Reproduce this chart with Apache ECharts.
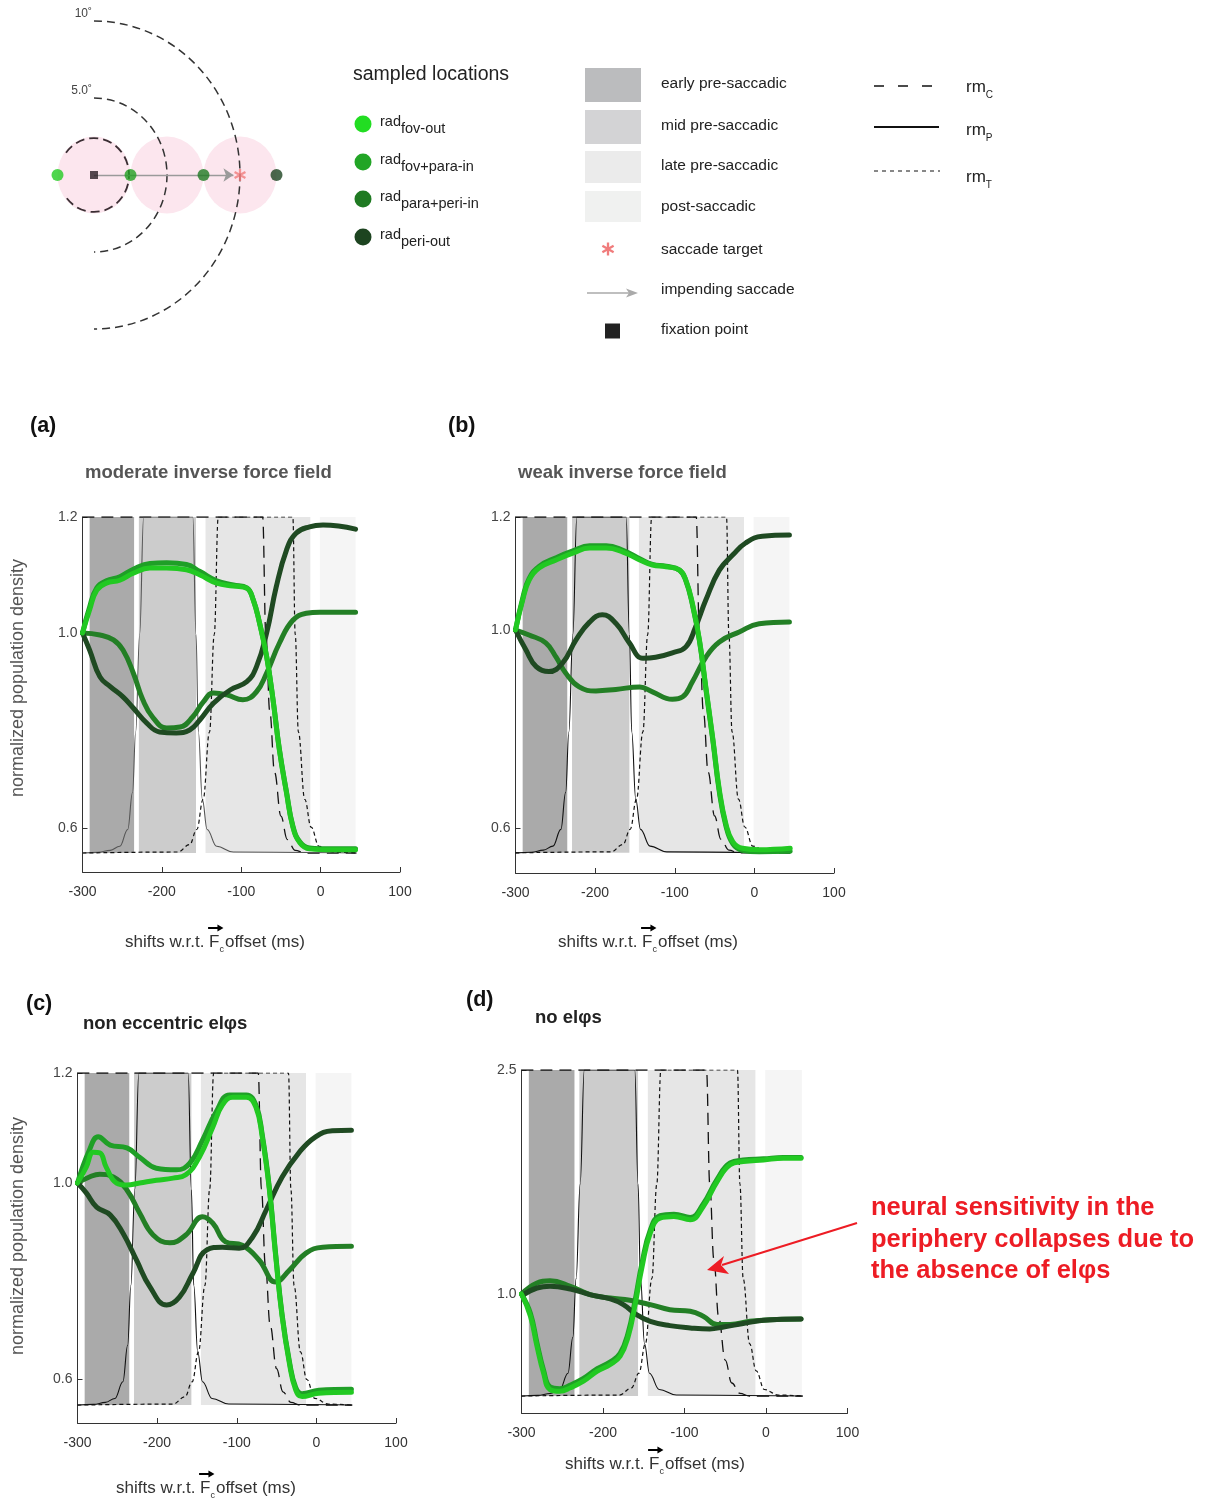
<!DOCTYPE html>
<html><head><meta charset="utf-8">
<script src="https://cdn.jsdelivr.net/npm/echarts@6/dist/echarts.min.js"></script>
<style>html,body{margin:0;padding:0;background:#fff}#c{width:1208px;height:1500px}</style>
</head><body><div id="c"></div><script>
// ================= DATA =================
const xTicks = [-300, -200, -100, 0, 100];
const phaseNames = ['early pre-saccadic', 'mid pre-saccadic', 'late pre-saccadic', 'post-saccadic'];
const phaseBounds = [[-291, -235], [-229, -157], [-145, -13], [-1, 44]];
const locationNames = ['fov-out', 'fov+para-in', 'para+peri-in', 'peri-out'];
const locationPos = [-2.5, 2.5, 7.5, 12.5];       // deg along the saccade axis
const fixationPos = [0, 0];
const targetPos = [10, 0];
const rfCenters = [0, 5, 10];
const rfRadius = 2.5;
const rings = [[5, 90, -90], [10, 90, -90], [2.4, 143, -143]]; // radius, from deg, to deg
const ringLabels = ['5.0˚', '10˚', ''];
const rmNames = ['C', 'P', 'T'];

// receptive-field (rm) profiles, fraction of plot height
const rmC = [[-300,1],[-73,1],[-69,0.65],[-64,0.42],[-58,0.24],[-50,0.11],[-42,0.04],[-32,0.008],[-20,0],[45,0]];
const rmP = [[-300,0],[-280,0.002],[-265,0.008],[-253,0.02],[-243,0.07],[-237,0.18],[-233,0.36],[-228,0.65],[-223,1],[-161,1],[-157,0.65],[-154,0.36],[-149,0.16],[-143,0.07],[-131,0.02],[-110,0.003],[45,0]];
const rmT = [[-300,0],[-180,0.003],[-165,0.025],[-156,0.07],[-148,0.16],[-140,0.36],[-134,0.65],[-129,1],[-35,1],[-32,0.65],[-28,0.36],[-20,0.16],[-12,0.077],[-2,0.02],[15,0.003],[45,0]];

// (a) moderate inverse force field
const A_fovOut = [[-300,1.0],[-291,1.04],[-282,1.074],[-270,1.086],[-253,1.091],[-236,1.103],[-215,1.112],[-194,1.112],[-169,1.109],[-152,1.1],[-131,1.086],[-110,1.081],[-93,1.077],[-85,1.057],[-77,1.017],[-68,0.951],[-60,0.863],[-52,0.76],[-43,0.672],[-35,0.602],[-26,0.569],[-14,0.557],[15,0.555],[44,0.555]];
const A_fovParaIn = [[-300,1.0],[-291,1.045],[-282,1.078],[-270,1.09],[-253,1.097],[-236,1.11],[-215,1.12],[-194,1.121],[-169,1.118],[-152,1.106],[-131,1.09],[-110,1.083],[-93,1.078],[-85,1.058],[-77,1.018],[-68,0.952],[-60,0.864],[-52,0.762],[-43,0.674],[-35,0.604],[-26,0.571],[-14,0.559],[15,0.557],[44,0.557]];
const A_paraPeriIn = [[-300,1.0],[-278,0.996],[-261,0.986],[-249,0.965],[-236,0.918],[-224,0.863],[-211,0.826],[-194,0.805],[-177,0.807],[-161,0.828],[-148,0.858],[-135,0.877],[-118,0.873],[-98,0.863],[-81,0.879],[-68,0.918],[-52,0.979],[-35,1.022],[-18,1.034],[-1,1.036],[44,1.036]];
const A_periOut = [[-300,1.0],[-291,0.965],[-278,0.91],[-265,0.89],[-249,0.869],[-236,0.846],[-219,0.815],[-203,0.797],[-182,0.795],[-165,0.801],[-152,0.822],[-135,0.856],[-114,0.883],[-93,0.9],[-81,0.93],[-68,1.0],[-56,1.079],[-43,1.143],[-31,1.172],[-14,1.183],[3,1.186],[44,1.179]];

// (b) weak inverse force field
const B_fovOut = [[-300,1.0],[-291,1.053],[-283,1.088],[-270,1.11],[-249,1.124],[-228,1.136],[-207,1.145],[-186,1.145],[-165,1.138],[-144,1.124],[-128,1.115],[-111,1.112],[-94,1.106],[-86,1.088],[-78,1.048],[-69,0.98],[-61,0.885],[-52,0.778],[-44,0.677],[-36,0.61],[-27,0.572],[-15,0.559],[6,0.556],[45,0.559]];
const B_fovParaIn = [[-300,1.0],[-291,1.056],[-283,1.091],[-270,1.113],[-249,1.128],[-228,1.14],[-207,1.149],[-186,1.149],[-165,1.141],[-144,1.126],[-128,1.116],[-111,1.113],[-94,1.106],[-86,1.087],[-78,1.046],[-69,0.978],[-61,0.882],[-52,0.775],[-44,0.673],[-36,0.606],[-27,0.568],[-15,0.555],[6,0.552],[45,0.553]];
const B_paraPeriIn = [[-300,1.0],[-283,0.99],[-262,0.974],[-249,0.945],[-237,0.913],[-220,0.885],[-199,0.877],[-174,0.88],[-144,0.885],[-128,0.875],[-103,0.86],[-90,0.865],[-78,0.895],[-61,0.945],[-44,0.976],[-19,0.996],[6,1.011],[44,1.014]];
const B_periOut = [[-300,1.0],[-287,0.96],[-274,0.926],[-258,0.916],[-241,0.933],[-224,0.98],[-207,1.014],[-191,1.027],[-174,1.012],[-157,0.974],[-140,0.943],[-124,0.945],[-103,0.954],[-86,0.966],[-74,1.005],[-61,1.053],[-44,1.106],[-27,1.133],[-11,1.154],[10,1.166],[44,1.168]];

// (c) non eccentric elφs
const C_fovOut = [[-300,1.0],[-289,1.029],[-280,1.056],[-272,1.055],[-264,1.029],[-251,1.0],[-238,0.996],[-222,1.0],[-201,1.005],[-180,1.009],[-164,1.015],[-147,1.047],[-130,1.102],[-118,1.142],[-105,1.156],[-88,1.156],[-76,1.138],[-68,1.084],[-59,0.986],[-51,0.849],[-43,0.727],[-34,0.633],[-26,0.578],[-18,0.564],[3,0.571],[44,0.573]];
const C_fovParaIn = [[-300,1.0],[-285,1.06],[-274,1.084],[-259,1.069],[-238,1.064],[-222,1.047],[-201,1.027],[-176,1.024],[-159,1.036],[-143,1.078],[-126,1.129],[-109,1.16],[-88,1.16],[-76,1.142],[-68,1.088],[-59,0.99],[-51,0.853],[-43,0.731],[-34,0.637],[-26,0.583],[-18,0.57],[3,0.577],[44,0.579]];
const C_paraPeriIn = [[-300,1.0],[-285,1.011],[-272,1.016],[-255,1.011],[-238,0.986],[-222,0.939],[-205,0.894],[-184,0.878],[-164,0.894],[-143,0.931],[-130,0.918],[-114,0.88],[-93,0.873],[-72,0.843],[-51,0.798],[-34,0.822],[-13,0.857],[8,0.869],[44,0.871]];
const C_periOut = [[-300,1.0],[-289,0.98],[-276,0.951],[-259,0.935],[-243,0.898],[-226,0.843],[-209,0.788],[-188,0.751],[-172,0.767],[-155,0.816],[-138,0.863],[-118,0.869],[-97,0.867],[-80,0.89],[-63,0.945],[-43,1.011],[-22,1.055],[-1,1.084],[20,1.095],[44,1.096]];

// (d) no elφs
const D_fovOut = [[-300,1.0],[-289,0.851],[-281,0.65],[-273,0.472],[-265,0.36],[-253,0.349],[-240,0.372],[-224,0.416],[-207,0.483],[-191,0.528],[-179,0.583],[-169,0.717],[-161,0.918],[-152,1.185],[-142,1.408],[-130,1.508],[-113,1.519],[-93,1.497],[-77,1.586],[-60,1.753],[-44,1.865],[-28,1.887],[-3,1.898],[21,1.909],[43,1.909]];
const D_fovParaIn = [[-300,1.0],[-289,0.87],[-281,0.672],[-273,0.492],[-265,0.378],[-253,0.366],[-240,0.39],[-224,0.434],[-207,0.5],[-191,0.546],[-179,0.603],[-169,0.742],[-161,0.946],[-152,1.21],[-142,1.428],[-130,1.524],[-113,1.534],[-93,1.513],[-77,1.603],[-60,1.768],[-44,1.878],[-28,1.897],[-3,1.905],[21,1.914],[43,1.914]];
const D_paraPeriIn = [[-300,1.0],[-281,1.074],[-265,1.089],[-240,1.051],[-216,0.996],[-191,0.973],[-167,0.958],[-142,0.929],[-118,0.895],[-93,0.884],[-77,0.851],[-60,0.795],[-44,0.795],[-20,0.817],[5,0.828],[43,0.833]];
const D_periOut = [[-299,0.99],[-281,1.04],[-265,1.051],[-240,1.033],[-216,0.996],[-191,0.967],[-175,0.929],[-159,0.862],[-142,0.817],[-118,0.788],[-93,0.773],[-69,0.766],[-52,0.779],[-28,0.802],[-3,0.824],[43,0.833]];

const panelTitles = ['moderate inverse force field', 'weak inverse force field', 'non eccentric elφs', 'no elφs'];
const panelLetters = ['(a)', '(b)', '(c)', '(d)'];
const yTickA = [0.6, 1.0, 1.2], yTickB = [0.6, 1.0, 1.2], yTickC = [0.6, 1.0, 1.2], yTickD = [1.0, 2.5];
const annotationLines = ['neural sensitivity in the', 'periphery collapses due to', 'the absence of elφs'];

// ================= STYLE / LAYOUT =================
const FONT = "'Liberation Sans', Arial, Helvetica, sans-serif";
const mctx = document.createElement('canvas').getContext('2d');
function tw(t, size, weight, fam) { mctx.font = (weight || 'normal') + ' ' + size + 'px ' + (fam || FONT); return mctx.measureText(t).width; }
const TFAM = FONT;
const TSIZE = 17;

const lineColors = ['#22c922', '#1f9f27', '#237f25', '#1f4a22'];
const dotColors = ['#22dd22', '#22a526', '#1f7a22', '#1d4420'];
const schemDotColors = ['#22cc22', '#22a022', '#1e7a22', '#1d4420'];
const phaseColors = ['#aaaaaa', '#cccccc', '#e6e6e6', '#f5f5f5'];
const phaseLegendColors = ['#bbbcbe', '#d3d3d5', '#ebebeb', '#f0f1f0'];

function warp(v, k) { return v >= 1 ? v : 1 - (1 - v) * k; }
function unwarp(u, k) { return u >= 1 ? u : 1 - (1 - u) / k; }

const panels = [
  { grid: {left: 82.5, top: 517, width: 317.5, height: 355}, yMin: 0.588, yMax: 1.2, k: 0.84, rmMin: -0.0565, ticks: yTickA,
    data: [A_fovOut, A_fovParaIn, A_paraPeriIn, A_periOut], rmPColor: '#555' },
  { grid: {left: 515.5, top: 517, width: 318.5, height: 356}, yMin: 0.570, yMax: 1.2, k: 0.876, rmMin: -0.06, ticks: yTickB,
    data: [B_fovOut, B_fovParaIn, B_paraPeriIn, B_periOut], rmPColor: '#111' },
  { grid: {left: 77.5, top: 1073, width: 318.5, height: 350}, yMin: 0.564, yMax: 1.2, k: 0.89, rmMin: -0.054, ticks: yTickC,
    data: [C_fovOut, C_fovParaIn, C_paraPeriIn, C_periOut], rmPColor: '#111' },
  { grid: {left: 521.5, top: 1070, width: 326, height: 343}, yMin: 0.203, yMax: 2.5, k: 1, rmMin: -0.052, ticks: yTickD,
    data: [D_fovOut, D_fovParaIn, D_paraPeriIn, D_periOut], rmPColor: '#111' }
];

// ================= OPTION =================
const grids = [{left: 21, top: 5.6, width: 292, height: 338.8}];
const xAxes = [{gridIndex: 0, type: 'value', min: -5, max: 15, show: false}];
const yAxes = [{gridIndex: 0, type: 'value', min: -11, max: 11, show: false}];
const series = [];

function ellipsePath(cx, cy, rx, ry) {
  return 'M' + (cx - rx) + ' ' + cy + ' A' + rx + ' ' + ry + ' 0 1 0 ' + (cx + rx) + ' ' + cy +
         ' A' + rx + ' ' + ry + ' 0 1 0 ' + (cx - rx) + ' ' + cy + ' Z';
}
const astRects = [
  [[-0.18,-1],[0.18,-1],[0.18,1],[-0.18,1]],
  [[-0.956,-0.344],[-0.776,-0.656],[0.956,0.344],[0.776,0.656]],
  [[0.776,-0.656],[0.956,-0.344],[-0.776,0.656],[-0.956,0.344]]];
const asteriskSym = 'path://' + astRects.map(rc => 'M' + rc.map(q => q[0] + ',' + q[1]).join('L') + 'Z').join(' ');

// schematic
series.push({
  type: 'custom', xAxisIndex: 0, yAxisIndex: 0, z: 1, silent: true,
  data: rfCenters.map(c => [c, 0]),
  renderItem(params, api) {
    const c = api.coord([api.value(0), 0]); const s = api.size([rfRadius, rfRadius]);
    return {type: 'path', shape: {pathData: ellipsePath(c[0], c[1], s[0], s[1])}, style: {fill: '#fce6ee', stroke: null}};
  }
});
series.push({
  type: 'custom', xAxisIndex: 0, yAxisIndex: 0, z: 2, silent: true,
  data: rings.map((r, i) => [r[0], r[1], r[2], i]),
  renderItem(params, api) {
    const r = api.value(0), d0 = api.value(1), d1 = api.value(2), i = api.value(3);
    const a0 = d0 * Math.PI / 180, a1 = d1 * Math.PI / 180;
    const c = api.coord(fixationPos); const s = api.size([r, r]);
    const p0 = [c[0] + s[0] * Math.cos(a0), c[1] - s[1] * Math.sin(a0)];
    const p1 = [c[0] + s[0] * Math.cos(a1), c[1] - s[1] * Math.sin(a1)];
    const large = Math.abs(d0 - d1) > 180 ? 1 : 0;
    const children = [{type: 'path', shape: {pathData: 'M' + p0[0] + ' ' + p0[1] + ' A' + s[0] + ' ' + s[1] + ' 0 ' + large + ' 1 ' + p1[0] + ' ' + p1[1]},
      style: {fill: 'none', stroke: i === 2 ? '#3a2e33' : '#333', lineWidth: i === 2 ? 1.8 : 1.5, lineDash: i === 2 ? [9, 5] : [8, 5]}}];
    if (ringLabels[i]) {
      const top = api.coord([0, r]);
      children.push({type: 'text', x: top[0] - 2, y: top[1] - 7, style: {text: ringLabels[i], fontSize: 12, fontFamily: FONT, fill: '#444', align: 'right', verticalAlign: 'middle'}});
    }
    return {type: 'group', children};
  }
});
series.push({
  type: 'lines', coordinateSystem: 'cartesian2d', xAxisIndex: 0, yAxisIndex: 0, z: 3, silent: true,
  data: [{coords: [fixationPos, [targetPos[0] - 0.45, targetPos[1]]]}],
  symbol: ['none', 'arrow'], symbolSize: 10, lineStyle: {color: '#9a9a9a', width: 1.3, opacity: 1}
});
series.push({
  type: 'scatter', xAxisIndex: 0, yAxisIndex: 0, z: 4, silent: true, symbolSize: 12,
  data: locationPos.map((x, i) => ({value: [x, 0], itemStyle: {color: schemDotColors[i]}}))
});
series.push({type: 'scatter', xAxisIndex: 0, yAxisIndex: 0, z: 5, silent: true, symbol: 'rect', symbolSize: 8,
  data: [fixationPos], itemStyle: {color: '#2a1f25'}});
series.push({type: 'scatter', xAxisIndex: 0, yAxisIndex: 0, z: 5, silent: true, symbol: asteriskSym, symbolSize: 12,
  data: [targetPos], itemStyle: {color: '#f07c7c'}});

// panels
panels.forEach((p, i) => {
  const gi = i + 1, xi = i + 1, yMain = 1 + 2 * i, yRm = 2 + 2 * i;
  grids.push(p.grid);
  const fam = FONT;
  xAxes.push({gridIndex: gi, type: 'value', min: xTicks[0], max: xTicks[xTicks.length - 1], interval: 100,
    axisLine: {show: true, onZero: false, lineStyle: {color: '#333', width: 1}},
    axisTick: {show: true, inside: true, length: 5, lineStyle: {color: '#333'}},
    axisLabel: {color: '#333', fontSize: 14, fontFamily: fam, margin: 13, showMinLabel: true, showMaxLabel: true},
    splitLine: {show: false}});
  const cv = p.ticks.map(t => warp(t, p.k));
  yAxes.push({gridIndex: gi, type: 'value', min: p.yMin, max: p.yMax,
    axisLine: {show: true, onZero: false, lineStyle: {color: '#333', width: 1}},
    axisTick: {show: true, inside: true, length: 5, customValues: cv, lineStyle: {color: '#333'}},
    axisLabel: {customValues: cv, color: '#444', fontSize: 14, fontFamily: fam, margin: 5,
      formatter: v => unwarp(v, p.k).toFixed(1)},
    splitLine: {show: false}});
  yAxes.push({gridIndex: gi, type: 'value', min: p.rmMin, max: 1, show: false});

  series.push({type: 'custom', xAxisIndex: xi, yAxisIndex: yRm, z: 1, silent: true,
    data: phaseBounds.map((b, j) => [b[0], b[1], j]),
    renderItem(params, api) {
      const a = api.coord([api.value(0), 1]); const b = api.coord([api.value(1), 0]);
      return {type: 'rect', shape: {x: a[0], y: a[1], width: b[0] - a[0], height: b[1] - a[1]}, style: {fill: phaseColors[api.value(2)]}};
    }});
  const rmDefs = [[rmC, [12, 7], '#111', 1.3], [rmP, null, p.rmPColor, 1.1], [rmT, [4, 3], '#111', 1.2]];
  rmDefs.forEach(d => series.push({type: 'line', xAxisIndex: xi, yAxisIndex: yRm, z: 2, silent: true,
    data: d[0], smooth: 0.4, smoothMonotone: 'x', showSymbol: false, symbol: 'none',
    lineStyle: {color: d[2], width: d[3], type: d[1] || 'solid'}}));
  [1, 2, 3, 0].forEach(li => series.push({type: 'line', xAxisIndex: xi, yAxisIndex: yMain, z: 4, silent: true,
    data: p.data[li].map(q => [q[0], warp(q[1], p.k)]), smooth: 0.45, showSymbol: false, symbol: 'none',
    lineStyle: {color: lineColors[li], width: 5, cap: 'round', join: 'round'}}));
});

// ================= GRAPHIC (titles, legends, annotation) =================
const G = [];
function txt(x, y, text, o) {
  o = o || {};
  return {type: 'text', x, y, z: 50, silent: true, rotation: o.rotation || 0,
    style: {text, fontSize: o.size || 14, fontFamily: o.fam || FONT, fontWeight: o.weight || 'normal',
      fill: o.color || '#222', align: o.align || 'left', verticalAlign: 'middle'}};
}

// panel letters & titles
const letterPos = [[30, 426], [448, 426], [26, 1004], [466, 1000]];
const titlePos = [[85, 473, '#555'], [518, 473, '#555'], [83, 1024, '#222'], [535, 1018, '#222']];
panelLetters.forEach((l, i) => G.push(txt(letterPos[i][0], letterPos[i][1], l, {size: 21.5, weight: 'bold', color: '#111'})));
panelTitles.forEach((t, i) => G.push(txt(titlePos[i][0], titlePos[i][1], t, {size: 18.5, weight: 'bold', color: titlePos[i][2]})));

// y axis names
[[18, 678], [18, 1236]].forEach(p => G.push(txt(p[0], p[1], 'normalized population density', {size: 18, color: '#555', align: 'center', rotation: Math.PI / 2})));

// x axis titles
function xTitle(left, y) {
  const w1 = tw('shifts w.r.t. ', TSIZE, 'normal', TFAM);
  const wF = tw('F', TSIZE, 'normal', TFAM);
  const wc = tw('c', 9, 'normal', FONT);
  G.push(txt(left, y, 'shifts w.r.t. F', {size: TSIZE, fam: TFAM, color: '#333'}));
  G.push(txt(left + w1 + wF, y + 8, 'c', {size: 9, color: '#333'}));
  G.push(txt(left + w1 + wF + wc + 1, y, 'offset (ms)', {size: TSIZE, fam: TFAM, color: '#333'}));
  const ax0 = left + w1 - 1, ax1 = left + w1 + wF + 3, ay = y - 14;
  G.push({type: 'line', z: 50, silent: true, shape: {x1: ax0, y1: ay, x2: ax1 - 3, y2: ay}, style: {stroke: '#000', lineWidth: 2}});
  G.push({type: 'polygon', z: 50, silent: true, shape: {points: [[ax1 + 1, ay], [ax1 - 5, ay - 3.5], [ax1 - 5, ay + 3.5]]}, style: {fill: '#000'}});
}
xTitle(125, 942); xTitle(558, 942); xTitle(116, 1488); xTitle(565, 1464);

// sampled locations legend
G.push(txt(353, 75, 'sampled locations', {size: 19.5, color: '#222'}));
const locLegY = [124, 162, 199, 237];
locationNames.forEach((n, i) => {
  const y = locLegY[i];
  G.push({type: 'circle', z: 50, silent: true, shape: {cx: 363, cy: y, r: 8.5}, style: {fill: dotColors[i]}});
  G.push(txt(380, y - 2, 'rad', {size: 14.5}));
  G.push(txt(380 + tw('rad', 14.5), y + 5, n, {size: 14.5}));
});

// phase legend
const phLegY = [[68, 34], [110, 34], [151, 32], [191, 31]];
const phLabY = [84, 126, 166, 207];
phaseNames.forEach((n, i) => {
  G.push({type: 'rect', z: 50, silent: true, shape: {x: 585, y: phLegY[i][0], width: 56, height: phLegY[i][1]}, style: {fill: phaseLegendColors[i]}});
  G.push(txt(661, phLabY[i], n, {size: 15.5}));
});
astRects.forEach(rc => G.push({type: 'polygon', z: 50, silent: true,
  shape: {points: rc.map(q => [608 + q[0] * 6.5, 249 + q[1] * 6.5])}, style: {fill: '#f07c7c'}}));
G.push(txt(661, 250, 'saccade target', {size: 15.5}));
G.push({type: 'line', z: 50, silent: true, shape: {x1: 587, y1: 293, x2: 630, y2: 293}, style: {stroke: '#aaa', lineWidth: 1.3}});
G.push({type: 'polygon', z: 50, silent: true, shape: {points: [[638, 293], [626, 288.5], [629, 293], [626, 297.5]]}, style: {fill: '#aaa'}});
G.push(txt(661, 290, 'impending saccade', {size: 15.5}));
G.push({type: 'rect', z: 50, silent: true, shape: {x: 605, y: 323.5, width: 15, height: 15}, style: {fill: '#222'}});
G.push(txt(661, 330, 'fixation point', {size: 15.5}));

// rm legend
G.push({type: 'line', z: 50, silent: true, shape: {x1: 874, y1: 86, x2: 940, y2: 86}, style: {stroke: '#111', lineWidth: 1.6, lineDash: [10, 14]}});
G.push({type: 'line', z: 50, silent: true, shape: {x1: 874, y1: 127, x2: 939, y2: 127}, style: {stroke: '#111', lineWidth: 2}});
G.push({type: 'line', z: 50, silent: true, shape: {x1: 874, y1: 171, x2: 940, y2: 171}, style: {stroke: '#111', lineWidth: 1, lineDash: [4, 4]}});
[87, 130, 177].forEach((y, i) => {
  G.push(txt(966, y, 'rm', {size: 17}));
  G.push(txt(966 + tw('rm', 17), y + 8, rmNames[i], {size: 10}));
});

// red annotation
annotationLines.forEach((l, i) => G.push(txt(871, 1208 + i * 31.5, l, {size: 25.5, weight: 'bold', color: '#ed1c24'})));
G.push({type: 'line', z: 60, silent: true, shape: {x1: 857, y1: 1223, x2: 722, y2: 1265}, style: {stroke: '#ed1c24', lineWidth: 2}});
G.push({type: 'polygon', z: 60, silent: true, shape: {points: [[707, 1270], [724, 1256], [721, 1265], [729, 1274]]}, style: {fill: '#ed1c24'}});

const chart = echarts.init(document.getElementById('c'), null, {renderer: 'canvas', width: 1208, height: 1500});
chart.setOption({
  animation: false, backgroundColor: '#fff',
  grid: grids, xAxis: xAxes, yAxis: yAxes, series,
  graphic: {elements: G}
});
</script></body></html>
